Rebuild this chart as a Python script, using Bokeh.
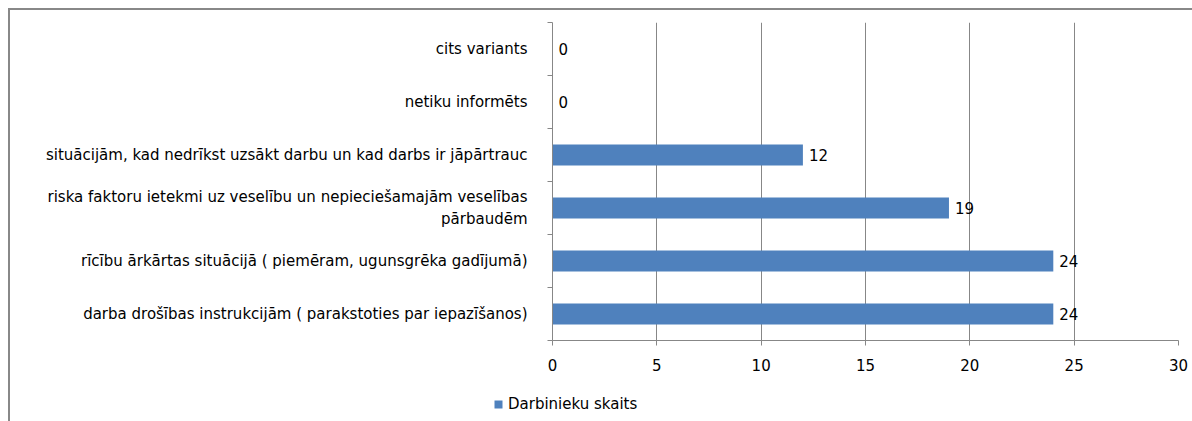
from bokeh.plotting import figure
from bokeh.layouts import column, row
from bokeh.models import (FixedTicker, ColumnDataSource, LabelSet, Legend,
                          LegendItem, Range1d)
from bokeh.core.properties import value
from bokeh.embed import file_html
from bokeh.resources import INLINE

# ---- data ----
categories = [
    "darba drošības instrukcijām ( parakstoties par iepazīšanos)",
    "rīcību ārkārtas situācijā ( piemēram, ugunsgrēka gadījumā)",
    "riska faktoru ietekmi uz veselību un nepieciešamajām veselības\npārbaudēm",
    "situācijām, kad nedrīkst uzsākt darbu un kad darbs ir jāpārtrauc",
    "netiku informēts",
    "cits variants",
]
values = [24, 24, 19, 12, 0, 0]
series_name = "Darbinieku skaits"
x_ticks = [0, 5, 10, 15, 20, 25, 30]

FONT = "DejaVu Sans"
FS = "15px"
GRAY = "#878787"
BLUE = "#4F81BD"

W = 1182
ypos = [i + 0.5 for i in range(len(categories))]
src = ColumnDataSource(dict(y=ypos, v=values, t=[str(v) for v in values]))

p = figure(width=W, height=365, x_range=Range1d(0, 30),
           y_range=Range1d(0, len(categories)),
           output_backend="svg", toolbar_location=None,
           min_border_left=542, min_border_right=14,
           min_border_top=12, min_border_bottom=35)
p.outline_line_color = None

r = p.hbar(y="y", right="v", left=0, height=0.4, source=src,
           fill_color=BLUE, line_color=None)

labels = LabelSet(x="v", y="y", text="t", source=src, x_offset=6,
                  text_baseline="middle", text_font=value(FONT),
                  text_font_size=value(FS), text_color="black")
p.add_layout(labels)

# x axis
p.xaxis.ticker = FixedTicker(ticks=x_ticks)
p.xaxis.axis_line_color = GRAY
p.xaxis.major_tick_line_color = GRAY
p.xaxis.major_tick_out = 5
p.xaxis.major_tick_in = 0
p.xaxis.minor_tick_line_color = None
p.xaxis.major_label_standoff = 13
p.xaxis.major_label_text_font = FONT
p.xaxis.major_label_text_font_size = FS
p.xaxis.major_label_text_color = "black"

# y axis
p.yaxis.ticker = FixedTicker(ticks=ypos, minor_ticks=list(range(len(categories) + 1)))
p.yaxis.major_label_overrides = {y: c for y, c in zip(ypos, categories)}
p.yaxis.axis_line_color = GRAY
p.yaxis.major_tick_line_color = None
p.yaxis.major_tick_out = 0
p.yaxis.major_tick_in = 0
p.yaxis.minor_tick_line_color = GRAY
p.yaxis.minor_tick_out = 5
p.yaxis.minor_tick_in = 0
p.yaxis.major_label_standoff = 20
p.yaxis.major_label_text_font = FONT
p.yaxis.major_label_text_font_size = FS
p.yaxis.major_label_text_color = "black"

# grid
p.xgrid.ticker = FixedTicker(ticks=x_ticks)
p.xgrid.grid_line_color = GRAY
p.ygrid.grid_line_color = None

# legend strip below the chart
LH = 46
leg = figure(width=W, height=LH, x_range=Range1d(0, W), y_range=Range1d(0, LH),
             output_backend="svg", toolbar_location=None,
             x_axis_type=None, y_axis_type=None,
             min_border_left=0, min_border_right=0,
             min_border_top=0, min_border_bottom=0)
leg.outline_line_color = None
leg.grid.grid_line_color = None
dummy = leg.hbar(y=[-50], right=[1], left=0, height=1,
                 fill_color=BLUE, line_color=None)
legend = Legend(items=[LegendItem(label=series_name, renderers=[dummy])],
                location=(483, 8), orientation="horizontal",
                padding=0, margin=0, glyph_width=10, glyph_height=10,
                label_standoff=5, label_text_font=FONT, label_text_font_size=FS,
                label_text_color="black",
                background_fill_alpha=0, border_line_color=None)
leg.add_layout(legend, "center")

layout = column(p, row(leg, spacing=0), spacing=0)
layout.styles = {"margin-left": "8px", "margin-top": "8px",
                 "border-top": "2px solid #888888",
                 "border-left": "2px solid #888888"}

open("out.html", "w").write(file_html(layout, INLINE))
